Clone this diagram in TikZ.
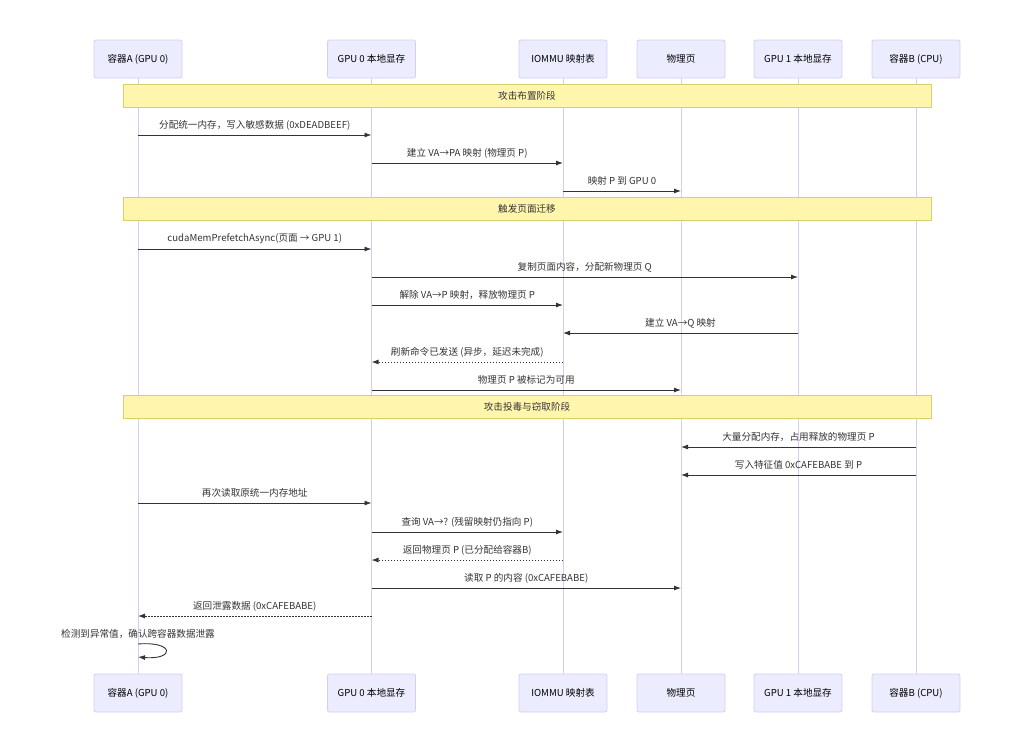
\documentclass[tikz,border=0pt]{standalone}
\usepackage{fontspec}
\setmainfont{Noto Sans CJK SC}
\usepackage{xcolor}
\usetikzlibrary{arrows.meta}

\definecolor{actorfill}{HTML}{ECECFF}
\definecolor{actorline}{HTML}{D8CCF4}
\definecolor{notefill}{HTML}{FFF5AD}
\definecolor{noteline}{HTML}{D6CF70}
\definecolor{msgcol}{HTML}{333333}

\begin{document}
\begin{tikzpicture}[x=1pt, y=-1pt,
    font=\fontsize{9.6}{11}\selectfont,
    actor/.style={draw=actorline, fill=actorfill, rounded corners=2pt, line width=0.8pt,
        minimum width=88pt, minimum height=38pt, text=black},
    lifeline/.style={actorline, line width=1pt},
    note/.style={draw=noteline, fill=notefill, line width=0.8pt,
        minimum width=808pt, minimum height=23pt, text=msgcol},
    msg/.style={msgcol, line width=0.9pt, -{Latex[length=7pt,width=5pt]}},
    ret/.style={msg, dash pattern=on 1.5pt off 1.5pt},
    lbl/.style={text=msgcol, inner sep=0pt}]
    % Setup
    \useasboundingbox (0,0) rectangle (1024,753);

    % Participants (top and bottom boxes)
    \foreach \n/\x/\t in {ctrA/138/{容器A (GPU 0)}, gpuZ/371.5/{GPU 0 本地显存},
        iommu/563/{IOMMU 映射表}, phys/681/{物理页},
        gpuO/798/{GPU 1 本地显存}, ctrB/916/{容器B (CPU)}} {
        \node[actor] (\n) at (\x,59) {\t};
        \node[actor] (\n2) at (\x,693) {\t};
        \draw[lifeline] (\n.south) -- (\n2.north);
    }

    % Phase notes
    \node[note] (phase1) at (527,95.5) {攻击布置阶段};
    \node[note] (phase2) at (527,208.5) {触发页面迁移};
    \node[note] (phase3) at (527,406.5) {攻击投毒与窃取阶段};

    % Messages
    \foreach \a/\b/\y/\s/\t in {
        ctrA/gpuZ/135/msg/{分配统一内存，写入敏感数据 (0xDEADBEEF)},
        gpuZ/iommu/163/msg/{建立 VA→PA 映射 (物理页 P)},
        iommu/phys/191/msg/{映射 P 到 GPU 0},
        ctrA/gpuZ/249/msg/{cudaMemPrefetchAsync(页面 → GPU 1)},
        gpuZ/gpuO/277/msg/{复制页面内容，分配新物理页 Q},
        gpuZ/iommu/305/msg/{解除 VA→P 映射，释放物理页 P},
        gpuO/iommu/333/msg/{建立 VA→Q 映射},
        iommu/gpuZ/362/ret/{刷新命令已发送 (异步，延迟未完成)},
        gpuZ/phys/390/msg/{物理页 P 被标记为可用},
        ctrB/phys/447/msg/{大量分配内存，占用释放的物理页 P},
        ctrB/phys/475/msg/{写入特征值 0xCAFEBABE 到 P},
        ctrA/gpuZ/503/msg/{再次读取原统一内存地址},
        gpuZ/iommu/532/msg/{查询 VA→? (残留映射仍指向 P)},
        iommu/gpuZ/560/ret/{返回物理页 P (已分配给容器B)},
        gpuZ/phys/588/msg/{读取 P 的内容 (0xCAFEBABE)},
        gpuZ/ctrA/616/ret/{返回泄露数据 (0xCAFEBABE)}} {
        \draw[\s] (\a |- 0,\y) -- (\b |- 0,\y)
            node[lbl, midway, yshift=10pt] (m\y) {\t};
    }

    % Self check on container A
    \node[lbl] (selfchk) at (138,634) {检测到异常值，确认跨容器数据泄露};
    \draw[msg] (ctrA |- 0,644) .. controls +(37,-3) and +(37,3) .. (ctrA |- 0,657);
\end{tikzpicture}
\end{document}
